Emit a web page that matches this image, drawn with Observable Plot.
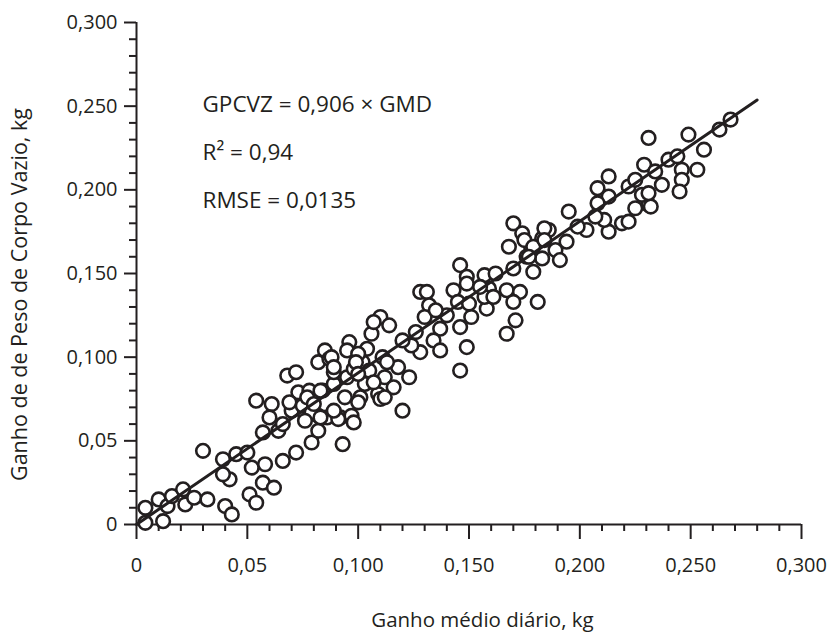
<!DOCTYPE html>
<html>
<head>
<meta charset="utf-8">
<script src="https://cdn.jsdelivr.net/npm/d3@7"></script>
<script src="https://cdn.jsdelivr.net/npm/@observablehq/plot@0.6"></script>
<style>
  html, body { margin: 0; padding: 0; background: #fff; }
</style>
</head>
<body>
<div id="chart"></div>
<script>
// Ganho médio diário (kg) – x values
const gmd = [
  0.004,0.004,0.010,0.012,0.014,0.016,0.021,0.022,0.026,0.030,0.032,0.040,0.043,0.039,0.042,0.039,0.045,0.050,0.052,0.051,
  0.054,0.057,0.058,0.062,0.066,0.072,0.079,0.054,0.057,0.061,0.060,0.064,0.068,0.072,0.073,0.070,0.076,0.079,0.082,0.085,
  0.082,0.084,0.082,0.066,0.069,0.075,0.078,
  0.096,0.095,0.087,0.088,0.104,0.102,0.111,0.118,0.123,0.112,0.103,0.109,0.116,0.095,0.089,0.083,0.077,0.079,0.086,0.092,
  0.097,0.120,0.093,0.091,0.098,0.083,0.110,0.101,0.100,0.106,0.110,0.114,0.107,0.128,0.131,0.132,0.130,0.137,0.134,0.137,
  0.128,0.124,0.146,0.149,0.157,0.159,0.143,0.145,0.151,0.158,0.149,0.146,0.146,0.157,0.150,0.089,0.098,0.105,0.113,0.120,
  0.126,0.140,0.135,
  0.099,0.107,0.089,0.100,0.094,0.100,0.112,0.080,0.076,0.089,
  0.229,0.213,0.208,0.222,0.213,0.208,0.225,0.231,0.228,0.219,0.213,0.203,0.195,0.170,0.174,0.168,0.183,0.186,0.194,0.189,
  0.183,0.191,0.179,0.170,0.167,0.173,0.181,0.170,0.171,0.167,0.178,0.184,0.211,0.225,0.234,0.268,0.263,0.256,0.249,0.231,
  0.240,0.244,0.246,0.253,0.246,0.245,0.237,0.232,0.162,0.176,0.199,
  0.149,0.155,0.161,0.175,0.179,0.184,0.177,0.207,0.222,0.231
];
// Ganho de peso de corpo vazio (kg) – y values
const gpcvz = [
  0.010,0.001,0.015,0.002,0.011,0.017,0.021,0.012,0.016,0.044,0.015,0.011,0.006,0.039,0.027,0.030,0.042,0.043,0.034,0.018,
  0.013,0.025,0.036,0.022,0.038,0.043,0.049,0.074,0.055,0.072,0.064,0.056,0.089,0.091,0.079,0.068,0.066,0.076,0.097,0.104,
  0.065,0.080,0.056,0.060,0.073,0.071,0.080,
  0.109,0.104,0.099,0.100,0.105,0.097,0.100,0.094,0.088,0.088,0.084,0.078,0.082,0.088,0.084,0.080,0.076,0.067,0.064,0.064,
  0.065,0.068,0.048,0.063,0.061,0.064,0.075,0.076,0.102,0.114,0.124,0.119,0.121,0.139,0.139,0.131,0.124,0.117,0.110,0.104,
  0.103,0.107,0.155,0.148,0.149,0.141,0.140,0.133,0.124,0.129,0.106,0.092,0.118,0.136,0.132,0.091,0.093,0.092,0.097,0.110,
  0.115,0.125,0.128,
  0.097,0.085,0.094,0.090,0.076,0.073,0.076,0.072,0.062,0.068,
  0.215,0.208,0.201,0.202,0.196,0.192,0.189,0.191,0.197,0.180,0.175,0.176,0.187,0.180,0.174,0.166,0.171,0.176,0.169,0.164,
  0.159,0.158,0.151,0.153,0.140,0.139,0.133,0.133,0.122,0.114,0.166,0.177,0.182,0.206,0.211,0.242,0.236,0.224,0.233,0.231,
  0.218,0.220,0.212,0.212,0.206,0.199,0.203,0.190,0.150,0.160,0.178,
  0.144,0.142,0.136,0.170,0.166,0.170,0.160,0.184,0.181,0.198
];

const majorTicks = [0, 0.05, 0.1, 0.15, 0.2, 0.25, 0.3];
const tickLabels = ["0", "0,05", "0,100", "0,150", "0,200", "0,250", "0,300"];
const minorTicks = [0.01,0.02,0.03,0.04,0.06,0.07,0.08,0.09,0.11,0.12,0.13,0.14,0.16,0.17,0.18,0.19,0.21,0.22,0.23,0.24,0.26,0.27,0.28,0.29];

const slope = 0.906;
const fitRange = [0, 0.28];

const annotations = ["GPCVZ = 0,906 × GMD", "R² = 0,94", "RMSE = 0,0135"];
const xLabel = "Ganho médio diário, kg";
const yLabel = "Ganho de de Peso de Corpo Vazio, kg";

const ink = "#231f20";
const points = gmd.map((x, i) => ({x, y: gpcvz[i]}));
const fit = fitRange.map(x => ({x, y: slope * x}));
const fmt = d => tickLabels[majorTicks.findIndex(t => Math.abs(t - d) < 1e-9)];

const annoOffsets = [82.5, 130.5, 178];

const chart = Plot.plot({
  width: 834,
  height: 633,
  marginLeft: 136,
  marginRight: 33,
  marginTop: 22,
  marginBottom: 109,
  style: {fontFamily: "'Open Sans', sans-serif", fontSize: "20px", color: ink, background: "#fff", overflow: "visible"},
  x: {domain: [0, 0.3]},
  y: {domain: [0, 0.3]},
  marks: [
    Plot.axisX(minorTicks, {tickSize: 7, strokeWidth: 2, tickFormat: () => "", label: null}),
    Plot.axisY(minorTicks, {tickSize: 7, strokeWidth: 2, tickFormat: () => "", label: null}),
    Plot.axisX(majorTicks, {tickSize: 15, tickPadding: 18, strokeWidth: 2, tickFormat: fmt, label: null}),
    Plot.axisY(majorTicks, {tickSize: 12, tickPadding: 7, strokeWidth: 2, tickFormat: fmt, label: null}),
    Plot.ruleX([0], {stroke: ink, strokeWidth: 2}),
    Plot.ruleY([0], {stroke: ink, strokeWidth: 2}),
    Plot.dot(points, {x: "x", y: "y", r: 6.8, fill: "#fff", stroke: ink, strokeWidth: 2.6}),
    Plot.line(fit, {x: "x", y: "y", stroke: ink, strokeWidth: 3}),
    ...annotations.map((t, i) => Plot.text([t], {frameAnchor: "top-left", textAnchor: "start", lineAnchor: "middle", dx: 66, dy: annoOffsets[i], fontSize: 22.5, fill: ink})),
    Plot.text([xLabel], {frameAnchor: "bottom", textAnchor: "middle", lineAnchor: "middle", dx: 13.5, dy: 96, fontSize: 20.5, fill: ink}),
    Plot.text([yLabel], {frameAnchor: "left", textAnchor: "middle", lineAnchor: "middle", rotate: -90, dx: -116, dy: 21, fontSize: 21.5, fill: ink})
  ]
});
document.getElementById("chart").appendChild(chart);
</script>
</body>
</html>
